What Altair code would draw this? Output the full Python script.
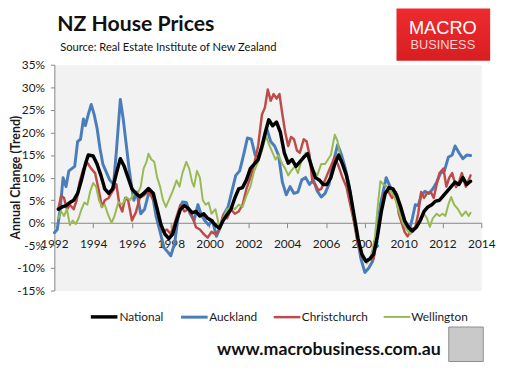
import altair as alt
import pandas as pd

# ---------------- data (annual % change, trend) ----------------
series_names = ["National", "Auckland", "Christchurch", "Wellington"]
series_colors = ["#000000", "#4A7EBB", "#BE4B48", "#98B954"]
series_widths = [3.5, 2.0, 2.0, 2.0]

national_year = [1992.2, 1992.4, 1992.6, 1992.8, 1993.0, 1993.2, 1993.4, 1993.6, 1993.75, 1994.0,
                 1994.2, 1994.4, 1994.6, 1994.8, 1995.0, 1995.2, 1995.4, 1995.6, 1995.8, 1996.0,
                 1996.2, 1996.4, 1996.6, 1996.85, 1997.1, 1997.3, 1997.5, 1997.7, 1997.9, 1998.1,
                 1998.3, 1998.5, 1998.7, 1998.9, 1999.1, 1999.3, 1999.5, 1999.7, 1999.9, 2000.1,
                 2000.3, 2000.5, 2000.7, 2000.9, 2001.1, 2001.3, 2001.5, 2001.7, 2001.9, 2002.1,
                 2002.3, 2002.5, 2002.7, 2002.9, 2003.05, 2003.25, 2003.45, 2003.65, 2003.85, 2004.05,
                 2004.25, 2004.45, 2004.65, 2004.85, 2005.05, 2005.25, 2005.45, 2005.65, 2005.85, 2006.05,
                 2006.25, 2006.45, 2006.65, 2006.85, 2007.05, 2007.25, 2007.45, 2007.65, 2007.85, 2008.05,
                 2008.25, 2008.45, 2008.65, 2008.85, 2009.05, 2009.25, 2009.45, 2009.65, 2009.85, 2010.05,
                 2010.25, 2010.45, 2010.65, 2010.85, 2011.05, 2011.25, 2011.45, 2011.65, 2011.85, 2012.05,
                 2012.25, 2012.45, 2012.65, 2012.85, 2013.05, 2013.25, 2013.45]
national_val = [3.0, 3.5, 3.8, 4.5, 5.0, 6.5, 9.5, 13.0, 15.0, 14.8,
                13.0, 10.5, 7.5, 6.5, 7.5, 11.0, 14.2, 12.5, 10.0, 7.5,
                6.5, 5.8, 6.5, 7.6, 6.5, 3.0, -0.5, -2.5, -3.5, -2.5,
                0.5, 3.0, 3.8, 3.2, 2.2, 2.5, 1.5, 2.0, 1.0, 0.5,
                -0.5, -1.2, 0.5, 1.8, 3.0, 5.5, 7.5, 7.8, 9.5, 12.0,
                13.0, 14.0, 17.0, 20.5, 22.8, 21.5, 22.3, 20.0, 15.5, 13.2,
                14.0, 12.5, 13.5, 14.5, 15.3, 12.5, 10.0, 9.5, 8.5, 8.5,
                10.0, 13.0, 15.0, 13.0, 10.5, 6.5, 1.5, -3.5, -7.0, -8.5,
                -8.0, -7.0, -3.0, 2.5, 6.5, 7.8, 7.5, 6.0, 3.5, 0.5,
                -1.0, -1.8, -1.0, 0.5, 2.5, 3.5, 4.0, 4.8, 5.0, 6.0,
                7.0, 8.0, 9.0, 8.5, 10.0, 8.5, 9.2]

auckland_year = [1992.0, 1992.15, 1992.3, 1992.45, 1992.6, 1992.75, 1992.9, 1993.05, 1993.2, 1993.35,
                 1993.5, 1993.6, 1993.75, 1993.9, 1994.05, 1994.2, 1994.35, 1994.5, 1994.65, 1994.85,
                 1995.05, 1995.2, 1995.4, 1995.55, 1995.7, 1995.85, 1996.0, 1996.1, 1996.25, 1996.45,
                 1996.65, 1996.9, 1997.1, 1997.25, 1997.45, 1997.65, 1997.85, 1998.0, 1998.2, 1998.4,
                 1998.6, 1998.8, 1999.0, 1999.2, 1999.4, 1999.55, 1999.75, 1999.95, 2000.15, 2000.35,
                 2000.55, 2000.75, 2000.95, 2001.15, 2001.35, 2001.55, 2001.75, 2001.95, 2002.15, 2002.35,
                 2002.55, 2002.75, 2002.95, 2003.15, 2003.35, 2003.55, 2003.75, 2003.95, 2004.15, 2004.35,
                 2004.55, 2004.75, 2004.95, 2005.15, 2005.35, 2005.55, 2005.75, 2005.95, 2006.15, 2006.35,
                 2006.6, 2006.8, 2007.0, 2007.2, 2007.4, 2007.6, 2007.8, 2008.0, 2008.2, 2008.4,
                 2008.6, 2008.8, 2009.0, 2009.1, 2009.3, 2009.5, 2009.7, 2009.9, 2010.1, 2010.3,
                 2010.45, 2010.6, 2010.75, 2010.9, 2011.1, 2011.3, 2011.5, 2011.7, 2011.9, 2012.1,
                 2012.3, 2012.5, 2012.65, 2012.85, 2013.05, 2013.25, 2013.45]
auckland_val = [-2.2, -1.5, 3.0, 10.0, 8.0, 11.5, 12.0, 12.5, 18.0, 18.5,
                23.0, 21.5, 24.0, 26.2, 24.0, 21.0, 16.5, 13.0, 11.5, 9.5,
                8.5, 16.0, 27.3, 23.0, 17.5, 12.0, 7.5, 5.0, 6.8, 2.0,
                3.0, 7.2, 5.0, 1.3, -2.0, -5.5, -6.5, -7.3, -4.5, 2.0,
                4.6, 4.5, 2.0, 0.5, 4.0, 2.0, 0.5, -0.5, 0.5, -3.0,
                -1.0, 2.0, 3.5, 7.0, 10.5, 11.5, 15.0, 18.8, 18.5, 15.0,
                14.5, 17.5, 20.8, 18.0, 17.0, 15.0, 9.0, 6.2, 8.0, 6.5,
                6.8, 9.5, 10.0, 8.5, 9.5, 7.0, 5.7, 6.5, 8.5, 13.0,
                17.3, 15.0, 12.0, 8.0, 2.0, -3.0, -8.0, -11.0, -10.0, -8.5,
                -3.0, 4.0, 8.0, 10.0, 8.0, 6.5, 4.5, 1.5, -1.0, -1.5,
                1.0, 4.0, 3.8, 6.0, 7.0, 6.5, 7.5, 9.0, 11.0, 11.5,
                14.5, 15.0, 17.0, 15.5, 14.2, 15.0, 14.9]

christchurch_year = [1992.2, 1992.35, 1992.5, 1992.65, 1992.8, 1993.0, 1993.15, 1993.3, 1993.5, 1993.7,
                     1993.9, 1994.1, 1994.3, 1994.45, 1994.6, 1994.8, 1995.0, 1995.2, 1995.35, 1995.5,
                     1995.65, 1995.8, 1996.0, 1996.2, 1996.4, 1996.6, 1996.8, 1997.0, 1997.2, 1997.4,
                     1997.6, 1997.8, 1998.0, 1998.2, 1998.35, 1998.5, 1998.7, 1998.9, 1999.1, 1999.3,
                     1999.5, 1999.7, 1999.9, 2000.1, 2000.3, 2000.5, 2000.7, 2000.9, 2001.1, 2001.3,
                     2001.5, 2001.7, 2001.9, 2002.1, 2002.3, 2002.5, 2002.7, 2002.85, 2003.0, 2003.15,
                     2003.3, 2003.45, 2003.6, 2003.75, 2003.9, 2004.05, 2004.2, 2004.35, 2004.5, 2004.65,
                     2004.85, 2005.0, 2005.15, 2005.3, 2005.45, 2005.6, 2005.75, 2005.9, 2006.1, 2006.3,
                     2006.45, 2006.65, 2006.85, 2007.05, 2007.25, 2007.45, 2007.65, 2007.85, 2008.05, 2008.25,
                     2008.45, 2008.65, 2008.85, 2009.0, 2009.2, 2009.4, 2009.6, 2009.75, 2009.9, 2010.05,
                     2010.2, 2010.4, 2010.6, 2010.75, 2010.9, 2011.05, 2011.2, 2011.4, 2011.55, 2011.7,
                     2011.85, 2012.05, 2012.2, 2012.35, 2012.5, 2012.7, 2012.85, 2013.0, 2013.2, 2013.45]
christchurch_val = [3.0, 6.0, 5.5, 3.0, 4.0, 3.0, 5.0, 9.0, 12.0, 13.3,
                    12.0, 11.0, 7.0, 3.5, 5.0, 5.5, 7.0, 8.5, 4.0, 2.5,
                    5.5, 5.0, 0.5, 2.3, 5.5, 6.0, 6.8, 6.0, 4.5, 0.5,
                    -2.0, -1.5, -2.5, 0.0, 2.0, 4.0, 2.5, 3.0, 1.5, -1.0,
                    -1.5, -2.5, -3.3, -2.0, -2.5, -1.5, 1.7, 1.0, 3.0, 2.0,
                    2.5, 4.0, 7.5, 10.0, 13.0, 17.0, 24.0, 25.5, 29.5, 27.0,
                    28.5, 27.5, 28.5, 24.0, 20.0, 17.0, 19.0, 18.5, 16.0, 15.5,
                    18.5, 18.0, 15.0, 9.0, 8.5, 7.2, 7.5, 9.0, 11.0, 13.0,
                    14.5, 12.5, 10.0, 8.0, 4.0, 0.0, -5.0, -7.5, -8.5, -8.0,
                    -8.0, -3.0, 3.0, 6.8, 7.0, 5.5, 6.8, 2.0, 0.0, -2.0,
                    -3.0, -1.5, -1.0, 2.0, 6.8, 5.5, 6.5, 6.8, 5.5, 8.5,
                    11.0, 12.0, 8.0, 10.0, 11.0, 7.9, 9.0, 11.0, 8.0, 10.5]

wellington_year = [1992.2, 1992.35, 1992.5, 1992.65, 1992.8, 1992.95, 1993.1, 1993.25, 1993.4, 1993.55,
                   1993.7, 1993.85, 1994.0, 1994.15, 1994.3, 1994.45, 1994.6, 1994.75, 1994.95, 1995.1,
                   1995.3, 1995.5, 1995.7, 1995.9, 1996.1, 1996.3, 1996.45, 1996.6, 1996.75, 1996.85,
                   1997.0, 1997.15, 1997.3, 1997.45, 1997.6, 1997.75, 1997.9, 1998.1, 1998.3, 1998.45,
                   1998.6, 1998.8, 1998.95, 1999.1, 1999.2, 1999.35, 1999.5, 1999.65, 1999.8, 1999.95,
                   2000.1, 2000.3, 2000.5, 2000.7, 2000.9, 2001.1, 2001.3, 2001.5, 2001.7, 2001.9,
                   2002.1, 2002.3, 2002.5, 2002.7, 2002.9, 2003.05, 2003.2, 2003.4, 2003.55, 2003.75,
                   2003.9, 2004.05, 2004.2, 2004.4, 2004.55, 2004.75, 2004.95, 2005.15, 2005.35, 2005.55,
                   2005.75, 2005.95, 2006.1, 2006.25, 2006.45, 2006.6, 2006.75, 2006.95, 2007.15, 2007.35,
                   2007.55, 2007.75, 2007.95, 2008.1, 2008.3, 2008.5, 2008.65, 2008.8, 2008.95, 2009.15,
                   2009.35, 2009.55, 2009.75, 2009.95, 2010.15, 2010.35, 2010.55, 2010.75, 2010.9, 2011.05,
                   2011.2, 2011.35, 2011.5, 2011.7, 2011.85, 2012.0, 2012.15, 2012.3, 2012.45, 2012.6,
                   2012.8, 2013.0, 2013.2, 2013.35, 2013.45]
wellington_val = [1.0, 2.5, 1.5, 3.0, -0.5, 0.5, -0.3, 1.0, 3.0, 4.5,
                  4.0, 7.0, 8.8, 8.0, 5.0, 3.5, 4.0, 2.0, 0.0, 1.5,
                  4.6, 4.0, 5.7, 5.0, 6.5, 6.5, 8.0, 12.0, 13.5, 15.3,
                  14.0, 13.5, 10.0, 8.0, 5.0, 3.5, 5.0, 7.0, 9.4, 8.0,
                  11.0, 13.5, 12.0, 9.0, 8.0, 11.5, 10.0, 5.0, 4.0, 4.5,
                  2.0, 3.0, -0.8, 1.0, 3.0, 3.5, 3.0, 4.0, 3.5, 6.0,
                  8.0, 11.5, 13.5, 16.0, 19.3, 17.5, 16.0, 14.0, 15.0, 13.0,
                  12.0, 10.5, 11.5, 12.5, 11.0, 14.0, 15.5, 14.5, 11.6, 10.5,
                  13.0, 13.0, 14.0, 15.0, 19.5, 18.0, 14.0, 12.0, 8.0, 3.0,
                  -2.0, -6.0, -8.0, -9.0, -7.5, -4.0, 3.0, 9.2, 8.5, 8.0,
                  7.0, 5.5, 2.5, 0.0, -1.5, -2.5, -1.5, -0.5, 0.5, 2.0,
                  1.0, -0.9, 1.0, 2.0, 1.5, 2.0, 1.5, 4.0, 5.7, 4.0,
                  3.0, 1.5, 2.5, 1.5, 2.2]

x_ticks = list(range(1992, 2016, 2))
y_ticks = list(range(-15, 40, 5))

title_text = "NZ House Prices"
subtitle_text = "Source: Real  Estate Institute of New Zealand"
footer_text = "www.macrobusiness.com.au"
logo_top = "MACRO"
logo_bottom = "BUSINESS"
y_title = "Annual Change (Trend)"

FONT = "Lato"

rows = []
for name, ys, vs in [("Auckland", auckland_year, auckland_val),
                     ("Christchurch", christchurch_year, christchurch_val),
                     ("Wellington", wellington_year, wellington_val),
                     ("National", national_year, national_val)]:
    for yr, v in zip(ys, vs):
        rows.append({"year": yr, "value": v, "series": name})
df = pd.DataFrame(rows)

legend = alt.Legend(
    title=None, orient="none", legendX=35, legendY=240, direction="horizontal",
    symbolType="stroke", symbolSize=729, labelFont=FONT, labelFontSize=12,
    labelColor="#1a1a1a", columnPadding=11, labelOffset=0, padding=0,
)

color_enc = alt.Color("series:N", scale=alt.Scale(domain=series_names, range=series_colors), legend=legend)
width_enc = alt.StrokeWidth("series:N", scale=alt.Scale(domain=series_names, range=series_widths), legend=legend)

x_enc = alt.X(
    "year:Q",
    scale=alt.Scale(domain=[1992, 2014], nice=False, zero=False),
    axis=alt.Axis(
        values=x_ticks, format="d", title=None, grid=False, offset=-68.7,
        tickSize=5, tickColor="#868686", domainColor="#868686", labelPadding=11,
        labelFont=FONT, labelFontSize=12, labelColor="#1a1a1a",
        labelOverlap=False, labelFlush=False,
    ),
)
y_enc = alt.Y(
    "value:Q",
    scale=alt.Scale(domain=[-15, 35], nice=False, zero=False),
    axis=alt.Axis(
        values=y_ticks, labelExpr="datum.value + '%'", title=y_title, grid=False,
        tickSize=4, tickColor="#868686", domainColor="#868686", labelPadding=6,
        labelFont=FONT, labelFontSize=12, labelColor="#1a1a1a",
        titleFont=FONT, titleFontSize=12.5, titleFontWeight="bold", titleColor="#1a1a1a",
        titleX=-39, titleY=114, titleAngle=270, titleAlign="center", titleBaseline="middle",
    ),
)

regions = alt.Chart(df).transform_filter(alt.datum.series != "National").mark_line(
    strokeJoin="round", strokeCap="round"
).encode(x=x_enc, y=y_enc, color=color_enc, strokeWidth=width_enc, detail="series:N")

national = alt.Chart(df).transform_filter(alt.datum.series == "National").mark_line(
    strokeJoin="round", strokeCap="round"
).encode(x=x_enc, y=y_enc, color=color_enc, strokeWidth=width_enc)

title = alt.Chart(pd.DataFrame({"t": [title_text]})).mark_text(
    font=FONT, fontSize=21.5, fontWeight="bold", align="left", baseline="alphabetic", color="#111111"
).encode(x=alt.value(3), y=alt.value(-34), text="t:N")

subtitle = alt.Chart(pd.DataFrame({"t": [subtitle_text]})).mark_text(
    font=FONT, fontSize=11.3, align="left", baseline="alphabetic", color="#111111"
).encode(x=alt.value(6), y=alt.value(-14), text="t:N")

footer = alt.Chart(pd.DataFrame({"t": [footer_text]})).mark_text(
    font=FONT, fontSize=18, fontWeight="bold", align="left", baseline="alphabetic", color="#111111"
).encode(x=alt.value(165), y=alt.value(294), text="t:N")

logo_box = alt.Chart(pd.DataFrame({"a": [0]})).mark_rect(
    color=alt.Gradient(gradient="linear", x1=0, y1=0, x2=0, y2=1,
                       stops=[alt.GradientStop(color="#EE2B2E", offset=0),
                              alt.GradientStop(color="#D81E22", offset=1)])
).encode(x=alt.value(347), x2=alt.value(442), y=alt.value(-57), y2=alt.value(-4))

logo_t1 = alt.Chart(pd.DataFrame({"t": [logo_top]})).mark_text(
    font="Liberation Sans", fontSize=18.5, align="center", baseline="alphabetic", color="#FFFFFF"
).encode(x=alt.value(394), y=alt.value(-31), text="t:N")

logo_t2 = alt.Chart(pd.DataFrame({"t": [logo_bottom]})).mark_text(
    font="Liberation Sans", fontSize=13, align="center", baseline="alphabetic", color="#F8D2D2"
).encode(x=alt.value(394), y=alt.value(-16), text="t:N")

wolf_box = alt.Chart(pd.DataFrame({"a": [0]})).mark_rect(
    fill="#C9C9C9", stroke="#8C8C8C", strokeWidth=1
).encode(x=alt.value(400), x2=alt.value(435), y=alt.value(266), y2=alt.value(301))

chart = alt.layer(
    regions, national, title, subtitle, footer, logo_box, logo_t1, logo_t2, wolf_box
).properties(
    width=433, height=229,
    autosize=alt.AutoSizeParams(type="none"),
    padding={"left": 47, "top": 55, "right": 20, "bottom": 73},
).configure_view(fill="#F2F2F2", stroke="transparent")

chart.save("out.html", embed_options={"renderer": "svg", "actions": False})
